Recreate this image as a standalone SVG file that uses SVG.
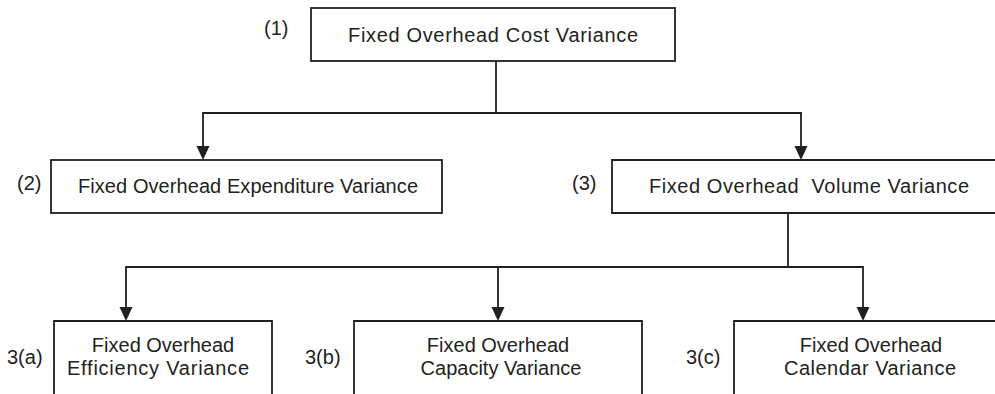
<svg xmlns="http://www.w3.org/2000/svg" width="995" height="394" viewBox="0 0 995 394">
  <style>
    .box { fill: #ffffff; stroke: #231f20; stroke-width: 1.8; }
    .wire { fill: none; stroke: #231f20; stroke-width: 1.8; }
    .txt { font-family: "Liberation Sans", Arial, sans-serif; font-size: 20px; fill: #231f20; }
    .mid { text-anchor: middle; }
  </style>
  <rect width="995" height="394" fill="#ffffff"/>

  <g id="connectors">
    <path class="wire" d="M496,61 V113"/>
    <path class="wire" d="M203,147 V113 H801 V147"/>
    <path class="wire" d="M788,213 V267"/>
    <path class="wire" d="M126,308 V267 H863 V308"/>
    <path class="wire" d="M498,267 V308"/>
    <g id="arrowheads" fill="#231f20">
      <polygon points="196.5,146 209.5,146 203,160"/>
      <polygon points="794.5,146 807.5,146 801,160"/>
      <polygon points="119.5,307 132.5,307 126,321"/>
      <polygon points="491.5,307 504.5,307 498,321"/>
      <polygon points="856.5,307 869.5,307 863,321"/>
    </g>
  </g>

  <g id="node-1">
    <rect class="box" x="311" y="8" width="364" height="53"/>
    <text class="txt mid" x="493" y="42" textLength="290" lengthAdjust="spacing">Fixed Overhead Cost Variance</text>
    <text class="txt" x="264" y="35">(1)</text>
  </g>

  <g id="node-2">
    <rect class="box" x="51" y="160" width="391" height="53"/>
    <text class="txt mid" x="248" y="193" textLength="340" lengthAdjust="spacing">Fixed Overhead Expenditure Variance</text>
    <text class="txt" x="17" y="190">(2)</text>
  </g>

  <g id="node-3">
    <path class="box" d="M1000,160 H612 V213 H1000"/>
    <text class="txt mid" x="809" y="193" textLength="320" lengthAdjust="spacing" xml:space="preserve">Fixed Overhead  Volume Variance</text>
    <text class="txt" x="572" y="190">(3)</text>
  </g>

  <g id="node-3a">
    <path class="box" d="M54,400 V321 H272 V400"/>
    <text class="txt mid" x="163" y="352">Fixed Overhead</text>
    <text class="txt mid" x="158" y="375" textLength="182" lengthAdjust="spacing">Efficiency Variance</text>
    <text class="txt" x="7" y="364">3(a)</text>
  </g>

  <g id="node-3b">
    <path class="box" d="M354,400 V321 H642 V400"/>
    <text class="txt mid" x="498" y="352">Fixed Overhead</text>
    <text class="txt mid" x="501" y="375">Capacity Variance</text>
    <text class="txt" x="305" y="364">3(b)</text>
  </g>

  <g id="node-3c">
    <path class="box" d="M1000,321 H734 V400"/>
    <text class="txt mid" x="871" y="352">Fixed Overhead</text>
    <text class="txt mid" x="870" y="375" textLength="172" lengthAdjust="spacing">Calendar Variance</text>
    <text class="txt" x="686" y="364">3(c)</text>
  </g>
</svg>
